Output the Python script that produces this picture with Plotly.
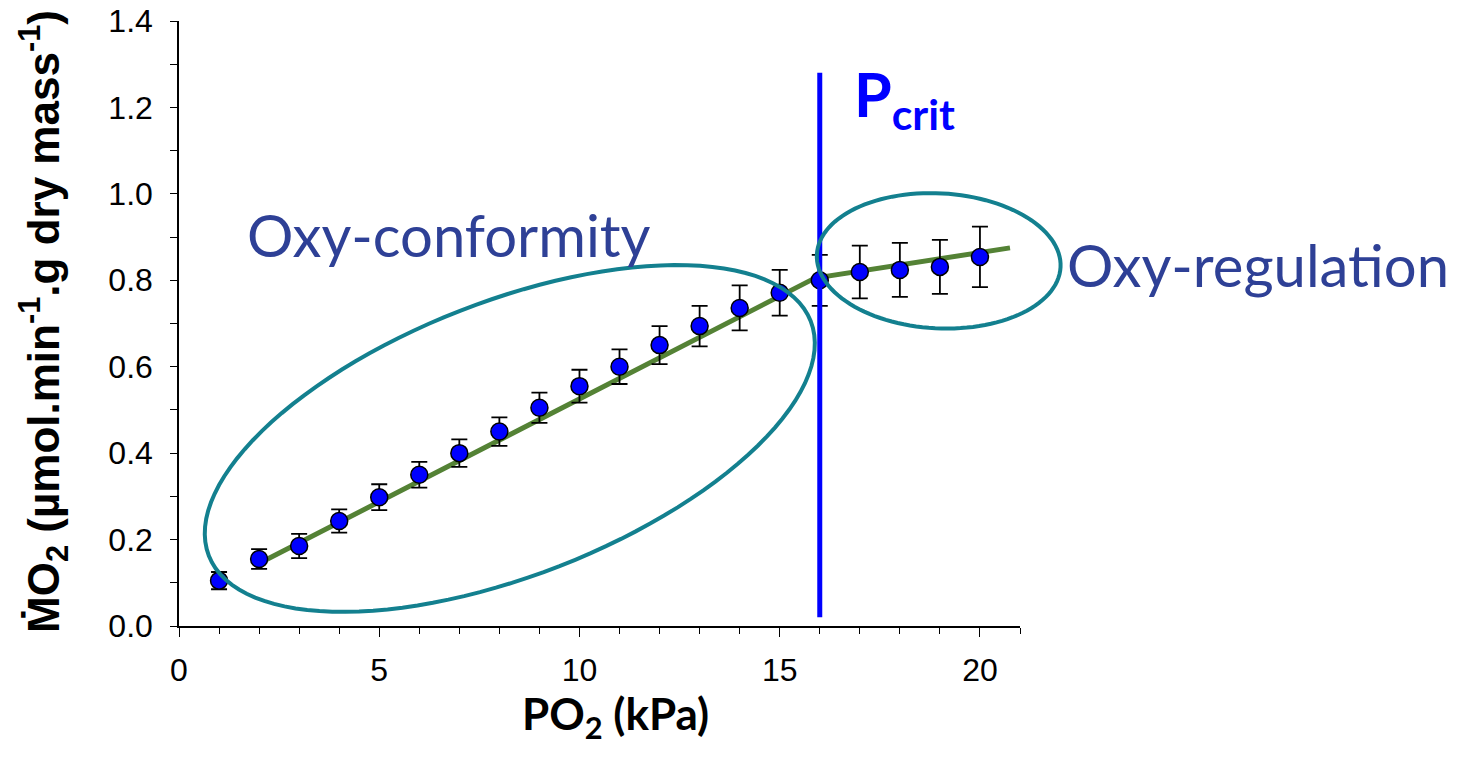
import math
import plotly.graph_objects as go

# ---- data ----
po2 = [1, 2, 3, 4, 5, 6, 7, 8, 9, 10, 11, 12, 13, 14, 15, 16, 17, 18, 19, 20]
mo2 = [0.105, 0.155, 0.185, 0.243, 0.298, 0.350, 0.400, 0.450, 0.505, 0.555,
       0.600, 0.650, 0.694, 0.736, 0.771, 0.800, 0.819, 0.824, 0.831, 0.854]
mo2_err = [0.020, 0.023, 0.028, 0.027, 0.030, 0.030, 0.032, 0.033, 0.035, 0.038,
           0.040, 0.044, 0.047, 0.052, 0.053, 0.059, 0.061, 0.0625, 0.0625, 0.070]
fit_x = [1.92, 15.88, 20.75]
fit_y = [0.141, 0.805, 0.875]
pcrit = 16
x_ticks = [0, 5, 10, 15, 20]
y_ticks = [0.0, 0.2, 0.4, 0.6, 0.8, 1.0, 1.2, 1.4]

# ---- layout geometry ----
W, H = 1446, 742
ML, MR, MT, MB = 171, 434, 13, 124
PW, PH = W - ML - MR, H - MT - MB
XR = [0, 21]
YR = [0, 1.4]

def ellipse_path(cx, cy, a, b, theta_deg, n=120):
    th = math.radians(theta_deg)
    pcx = (cx - XR[0]) / (XR[1] - XR[0]) * PW
    pcy = (cy - YR[0]) / (YR[1] - YR[0]) * PH
    pts = []
    for i in range(n + 1):
        t = 2 * math.pi * i / n
        px = pcx + a * math.cos(t) * math.cos(th) - b * math.sin(t) * math.sin(th)
        py = pcy + a * math.cos(t) * math.sin(th) + b * math.sin(t) * math.cos(th)
        pts.append((px / PW, py / PH))
    return "M " + " L ".join(f"{x:.5f},{y:.5f}" for x, y in pts) + " Z"

teal = "#13808F"
label_blue = "#2E4096"

fig = go.Figure()
fig.add_trace(go.Scatter(
    x=fit_x, y=fit_y, mode="lines",
    line=dict(color="#548235", width=5), hoverinfo="skip", showlegend=False))
fig.add_trace(go.Scatter(
    x=po2, y=mo2, mode="markers",
    marker=dict(color="#0000FF", size=17, line=dict(color="black", width=1.5)),
    error_y=dict(type="data", array=mo2_err, color="black", thickness=1.8, width=8),
    showlegend=False))

shapes = [
    dict(type="line", xref="x", yref="y", x0=pcrit, x1=pcrit, y0=0.02, y1=1.28,
         line=dict(color="#0000FF", width=5)),
    dict(type="path", xref="paper", yref="paper",
         path=ellipse_path(8.26, 0.434, 323, 137, 21.3),
         line=dict(color=teal, width=4)),
    dict(type="path", xref="paper", yref="paper",
         path=ellipse_path(18.97, 0.845, 122, 67.5, -3),
         line=dict(color=teal, width=4)),
]

annotations = [
    dict(text="P<sub>crit</sub>", x=16.8, y=1.222, xref="x", yref="y",
         xanchor="left", yanchor="middle", showarrow=False,
         font=dict(family="Lato", size=61, color="#0000FF", weight="bold")),
    dict(text="Oxy-conformity", x=1.65, y=0.906, xref="x", yref="y",
         xanchor="left", yanchor="middle", showarrow=False,
         font=dict(family="Lato", size=58, color=label_blue)),
    dict(text="Oxy-regulation", x=1.0535, y=0.5975, xref="paper", yref="paper",
         xanchor="left", yanchor="middle", showarrow=False,
         font=dict(family="Lato", size=58, color=label_blue)),
    dict(text="PO<sub>2</sub> (kPa)", x=0.5196, y=-0.150, xref="paper", yref="paper",
         xanchor="center", yanchor="middle", showarrow=False,
         font=dict(family="Lato", size=44, color="black", weight="bold")),
    dict(text="ṀO<sub>2</sub> (µmol.min<sup>-1</sup>.g dry mass<sup>-1</sup>)",
         x=-0.1605, y=0.5025, xref="paper", yref="paper",
         xanchor="center", yanchor="middle", textangle=-90, showarrow=False,
         font=dict(family="Liberation Sans", size=44, color="black", weight="bold")),
]

fig.update_layout(
    width=W, height=H,
    margin=dict(l=ML, r=MR, t=MT, b=MB, autoexpand=False),
    paper_bgcolor="white", plot_bgcolor="white",
    shapes=shapes, annotations=annotations,
    xaxis=dict(range=XR, tickvals=x_ticks, ticktext=[str(v) for v in x_ticks],
               ticks="outside", ticklen=9, tickwidth=1.2, tickcolor="black",
               minor=dict(dtick=1, tick0=0, ticks="outside", ticklen=6, tickcolor="black", tickwidth=1.2),
               showline=True, linecolor="black", linewidth=1.5, showgrid=False, zeroline=False,
               ticklabelstandoff=6, ticklabeloverflow="allow",
               tickfont=dict(family="Liberation Sans", size=32, color="black")),
    yaxis=dict(range=YR, tickvals=y_ticks, ticktext=[f"{v:.1f}" for v in y_ticks],
               ticks="outside", ticklen=7, tickwidth=1.2, tickcolor="black",
               minor=dict(dtick=0.1, tick0=0, ticks="outside", ticklen=7, tickcolor="black", tickwidth=1.2),
               showline=True, linecolor="black", linewidth=1.5, showgrid=False, zeroline=False,
               ticklabelstandoff=11, ticklabeloverflow="allow",
               tickfont=dict(family="Liberation Sans", size=32, color="black")),
)

fig.write_html("out.html")
